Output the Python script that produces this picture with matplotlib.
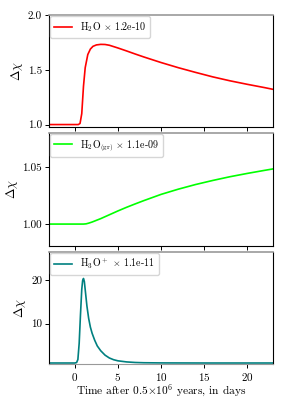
import numpy as np
import matplotlib
matplotlib.use('Agg')
import matplotlib.pyplot as plt

plt.rcParams['font.family'] = 'serif'
plt.rcParams['font.serif'] = ['cmr10']
plt.rcParams['mathtext.fontset'] = 'cm'
plt.rcParams['axes.formatter.use_mathtext'] = True
plt.rcParams['font.size'] = 8

# values
t_h2o = [-3, 0.0, 0.4, 0.6, 0.8, 1.0, 1.2, 1.5, 1.8, 2.1, 2.5, 3.0, 3.5, 4.0, 5.0,
         6.0, 7.0, 8.0, 10.0, 12.0, 14.0, 16.0, 18.0, 20.0, 22.0, 23.0]
y_h2o = [1.0, 1.0, 1.0, 1.01, 1.10, 1.35, 1.52, 1.64, 1.69, 1.715, 1.728, 1.733, 1.732,
         1.725, 1.70, 1.673, 1.645, 1.618, 1.567, 1.520, 1.477, 1.436, 1.400, 1.368, 1.338, 1.322]

t_gr = [-3, 0.0, 1.0, 1.3, 1.6, 2.0, 3.0, 4.0, 5.0, 6.0, 7.0, 8.0, 10.0, 12.0, 14.0,
        16.0, 18.0, 20.0, 22.0, 23.0]
y_gr = [1.0, 1.0, 1.0, 1.0002, 1.0008, 1.0018, 1.0048, 1.0082, 1.0116, 1.0148, 1.0178,
        1.0207, 1.0262, 1.0308, 1.0349, 1.0385, 1.0418, 1.0447, 1.0474, 1.0487]

t_h3o = [-3, 0.0, 0.2, 0.35, 0.5, 0.65, 0.8, 0.9, 1.0, 1.1, 1.25, 1.4, 1.6, 1.8, 2.0,
         2.3, 2.6, 3.0, 3.5, 4.0, 4.5, 5.0, 6.0, 7.0, 8.0, 10.0, 15.0, 23.0]
y_h3o = [1.0, 1.0, 1.1, 1.8, 5.5, 12.0, 17.8, 19.8, 20.3, 19.6, 16.8, 14.0, 11.2, 9.2, 7.8,
         6.2, 4.9, 3.8, 2.8, 2.15, 1.75, 1.5, 1.25, 1.12, 1.06, 1.02, 1.0, 1.0]

labels = [r'H$_2$O $\times$ 1.2e-10', r'H$_2$O$_{\rm (gr)}$ $\times$ 1.1e-09',
          r'H$_3$O$^+$ $\times$ 1.1e-11']
colors = ['red', '#00ff00', '#008080']
ylims = [(0.975, 2.0), (0.981, 1.08), (0.8, 26.4)]
yticks = [[1.0, 1.5, 2.0], [1.00, 1.05], [10, 20]]
ytick_labels = [['1.0', '1.5', '2.0'], ['1.00', '1.05'], ['10', '20']]

fig, axes = plt.subplots(3, 1, figsize=(2.85, 3.99), dpi=100, sharex=True)
fig.subplots_adjust(left=0.172, right=0.958, top=0.962, bottom=0.088, hspace=0.055)

series = [(t_h2o, y_h2o), (t_gr, y_gr), (t_h3o, y_h3o)]
for i, ax in enumerate(axes):
    t, y = series[i]
    ax.plot(t, y, color=colors[i], lw=1.2, label=labels[i])
    ax.set_xlim(-3, 23)
    ax.set_ylim(*ylims[i])
    ax.set_yticks(yticks[i])
    ax.set_yticklabels(ytick_labels[i])
    ax.set_xticks([0, 5, 10, 15, 20])
    ax.set_ylabel(r'$\Delta\chi$', fontsize=9, labelpad=2)
    ax.spines['top'].set_color('#999999')
    ax.spines['top'].set_linewidth(1.2)
    ax.tick_params(length=3, width=0.7, pad=2, labelsize=8)
    ax.legend(loc='upper left', fontsize=7.2, borderaxespad=0.1, handlelength=1.8,
              framealpha=0.8, edgecolor='#cccccc', fancybox=True)
axes[2].spines['bottom'].set_color('#999999')
axes[2].set_xlabel(r'Time after 0.5$\times$10$^6$ years, in days', fontsize=8.2, labelpad=0)

fig.savefig('out.png', dpi=100)
